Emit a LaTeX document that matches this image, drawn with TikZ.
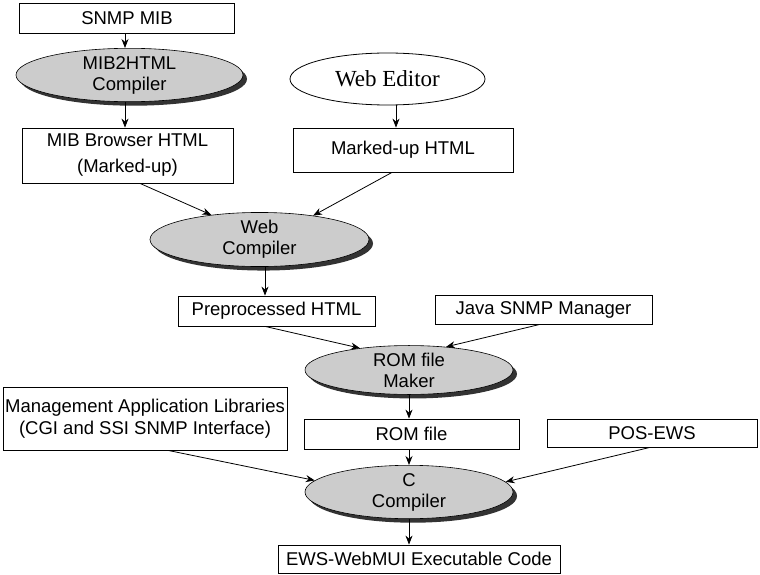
\documentclass[tikz,border=0pt]{standalone}
\usepackage{fontspec}
\setmainfont{Liberation Sans}
\newfontfamily\serifw{Liberation Serif}
\usetikzlibrary{shapes.geometric,arrows.meta,calc,shadows}
\begin{document}
\begin{tikzpicture}[x=1pt,y=-1pt,
 box/.style={draw=black, line width=0.8pt, rectangle, inner sep=0pt, align=center, font=\fontsize{18.5}{22}\selectfont},
 proc/.style={ellipse, draw=black, line width=0.6pt, fill=gray!40, inner sep=0pt, align=center, font=\fontsize{18.5}{21}\selectfont, drop shadow={shadow xshift=4pt, shadow yshift=-4pt, fill=black!80, opacity=1}},
 plain/.style={ellipse, draw=black, line width=0.8pt, fill=white, inner sep=0pt, align=center, font=\serifw\fontsize{23}{24}\selectfont},
 arr/.style={-{Stealth[length=9pt,width=7pt]}, line width=0.8pt}]
\useasboundingbox (0,0) rectangle (760,575);
\node[box, minimum width=215pt, minimum height=30pt] (snmp) at (127,18) {SNMP MIB};
\node[proc, minimum width=227pt, minimum height=40pt] (mib2) at (129.5,75) {MIB2HTML\\Compiler};
\node[box, minimum width=211pt, minimum height=55pt, font=\fontsize{18.5}{26}\selectfont] (mibb) at (127.5,155.5) {MIB Browser HTML\\(Marked-up)};
\node[plain, minimum width=195pt, minimum height=52pt] (webed) at (387.5,79) {Web Editor};
\node[box, minimum width=220pt, minimum height=44pt] (marked) at (403,150) {Marked-up HTML};
\node[proc, minimum width=219pt, minimum height=39pt] (webc) at (259.5,239.5) {Web\\Compiler};
\node[box, minimum width=197pt, minimum height=30pt] (preproc) at (276.5,311) {Preprocessed HTML};
\node[box, minimum width=217pt, minimum height=29pt] (java) at (543.5,309.5) {Java SNMP Manager};
\node[proc, minimum width=208pt, minimum height=46pt] (maker) at (409,370) {ROM file\\Maker};
\node[box, minimum width=284pt, minimum height=63pt] (mgmt) at (145,418.5) {Management Application Libraries\\(CGI and SSI SNMP Interface)};
\node[box, minimum width=215pt, minimum height=30pt] (romf) at (411.5,434) {ROM file};
\node[box, minimum width=210pt, minimum height=28pt] (pos) at (652,433) {POS-EWS};
\node[proc, minimum width=208pt, minimum height=40pt] (cc) at (409,492) {C\\Compiler};
\node[box, minimum width=282pt, minimum height=28pt] (ews) at (419,559) {EWS-WebMUI Executable Code};

\draw[arr] ($(snmp.south)+(-2,0)$) -- ($(mib2.north)+(-4.5,0)$);
\draw[arr] ($(mib2.south)+(-4.5,0)$) -- ($(mibb.north)+(-2.5,0)$);
\draw[arr] ($(webed.south)+(8.5,0)$) -- ($(marked.north)+(-7,0)$);
\draw[arr] ($(mibb.south)+(12.5,0)$) -- (webc.153);
\draw[arr] ($(marked.south)+(-11,0)$) -- (webc.24);
\draw[arr] ($(webc.south)+(5.5,0)$) -- ($(preproc.north)+(-11.5,0)$);
\draw[arr] ($(preproc.south)+(-11.5,0)$) -- (maker.156);
\draw[arr] ($(java.south)+(-3.5,0)$) -- (maker.32);
\draw[arr] (maker.south) -- ($(romf.north)+(-2.5,0)$);
\draw[arr] ($(romf.south)+(-2.5,0)$) -- (cc.north);
\draw[arr] ($(mgmt.south)+(23,0)$) -- (cc.173);
\draw[arr] ($(pos.south)+(-2,0)$) -- (cc.6);
\draw[arr] (cc.south) -- ($(ews.north)+(-10,0)$);
\end{tikzpicture}
\end{document}
